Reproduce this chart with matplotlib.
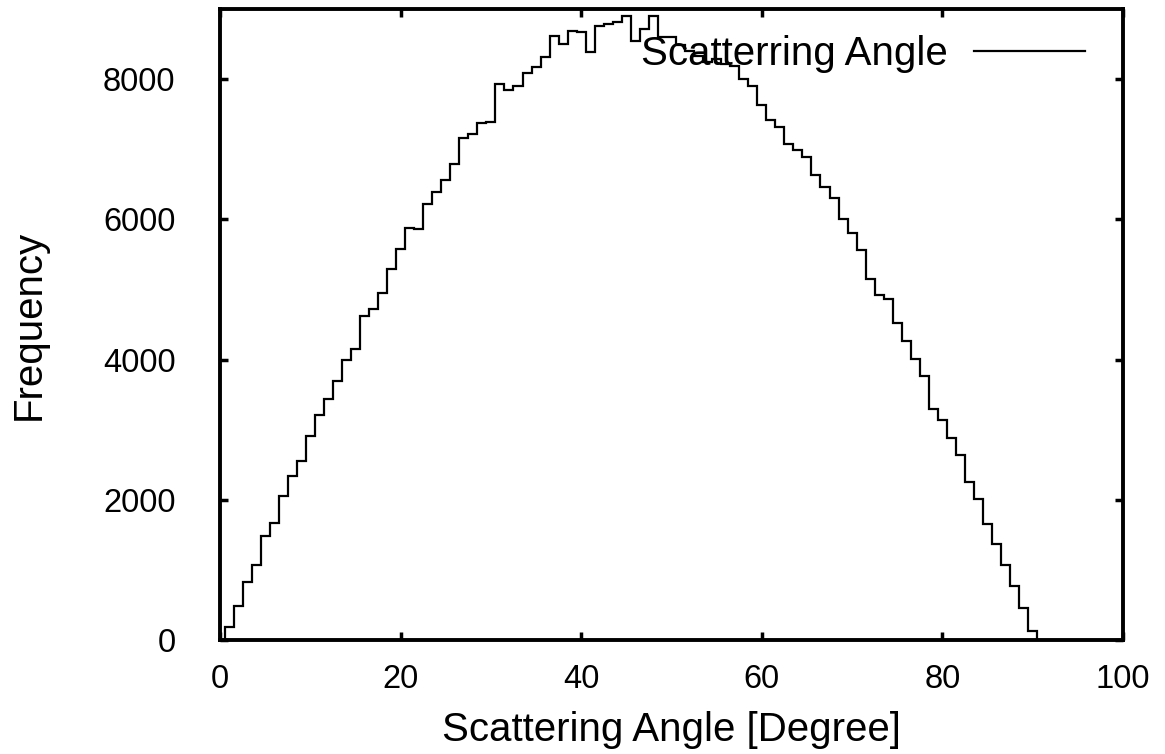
import matplotlib
matplotlib.use("Agg")
import matplotlib.pyplot as plt
import numpy as np

plt.rcParams['font.family'] = ['Liberation Sans', 'DejaVu Sans']

# histogram counts per 1-degree bin, bins centred on 0..90 degrees
angle_bins = list(range(0, 91))
counts = [
    0, 190, 486, 833, 1071, 1486, 1667, 2048, 2343, 2557,
    2905, 3205, 3438, 3700, 4000, 4157, 4619, 4714, 4952, 5295,
    5571, 5881, 5857, 6214, 6390, 6562, 6786, 7167, 7214, 7367,
    7395, 7929, 7848, 7895, 8086, 8167, 8319, 8610, 8500, 8690,
    8667, 8381, 8762, 8790, 8810, 8905, 8547, 8714, 8905, 8595,
    8595, 8480, 8400, 8330, 8240, 8290, 8220, 8190, 8000, 7905,
    7629, 7419, 7310, 7071, 6990, 6895, 6629, 6462, 6310, 6010,
    5810, 5562, 5152, 4914, 4857, 4524, 4262, 4005, 3762, 3295,
    3143, 2881, 2643, 2252, 2014, 1657, 1367, 1071, 776, 452,
    129,
]
xticks = [0, 20, 40, 60, 80, 100]
yticks = [0, 2000, 4000, 6000, 8000]

edges = np.append(np.array(angle_bins) - 0.5, angle_bins[-1] + 0.5)

fig = plt.figure(figsize=(11.65, 7.54), dpi=100)
ax = fig.add_axes([220 / 1165, 1 - 640 / 754, 903 / 1165, 631 / 754])

ax.stairs(counts, edges, color="k", linewidth=1.6, label="Scatterring Angle", zorder=5)

ax.set_xlim(0, 100)
ax.set_ylim(0, 9000)
ax.set_xticks(xticks)
ax.set_yticks(yticks)

for s in ax.spines.values():
    s.set_linewidth(2.8)
ax.tick_params(direction="in", length=6, width=2.5, top=True, right=True,
               labelsize=23.5)
ax.tick_params(axis="y", pad=32)
ax.tick_params(axis="x", pad=17)

ax.set_xlabel("Scattering Angle [Degree]", fontsize=29, labelpad=12)
ax.set_ylabel("Frequency", fontsize=29, labelpad=40)

# gnuplot-style key: text first, sample line after it
leg = ax.legend(loc="upper right", bbox_to_anchor=(1, 1 + 12 / 631),
                frameon=False, markerfirst=False,
                fontsize=29, handlelength=2.75, handletextpad=0.65,
                borderaxespad=0.55, borderpad=0.4)
for h in leg.get_lines():
    h.set_linewidth(1.6)

fig.savefig("out.png", dpi=100)
